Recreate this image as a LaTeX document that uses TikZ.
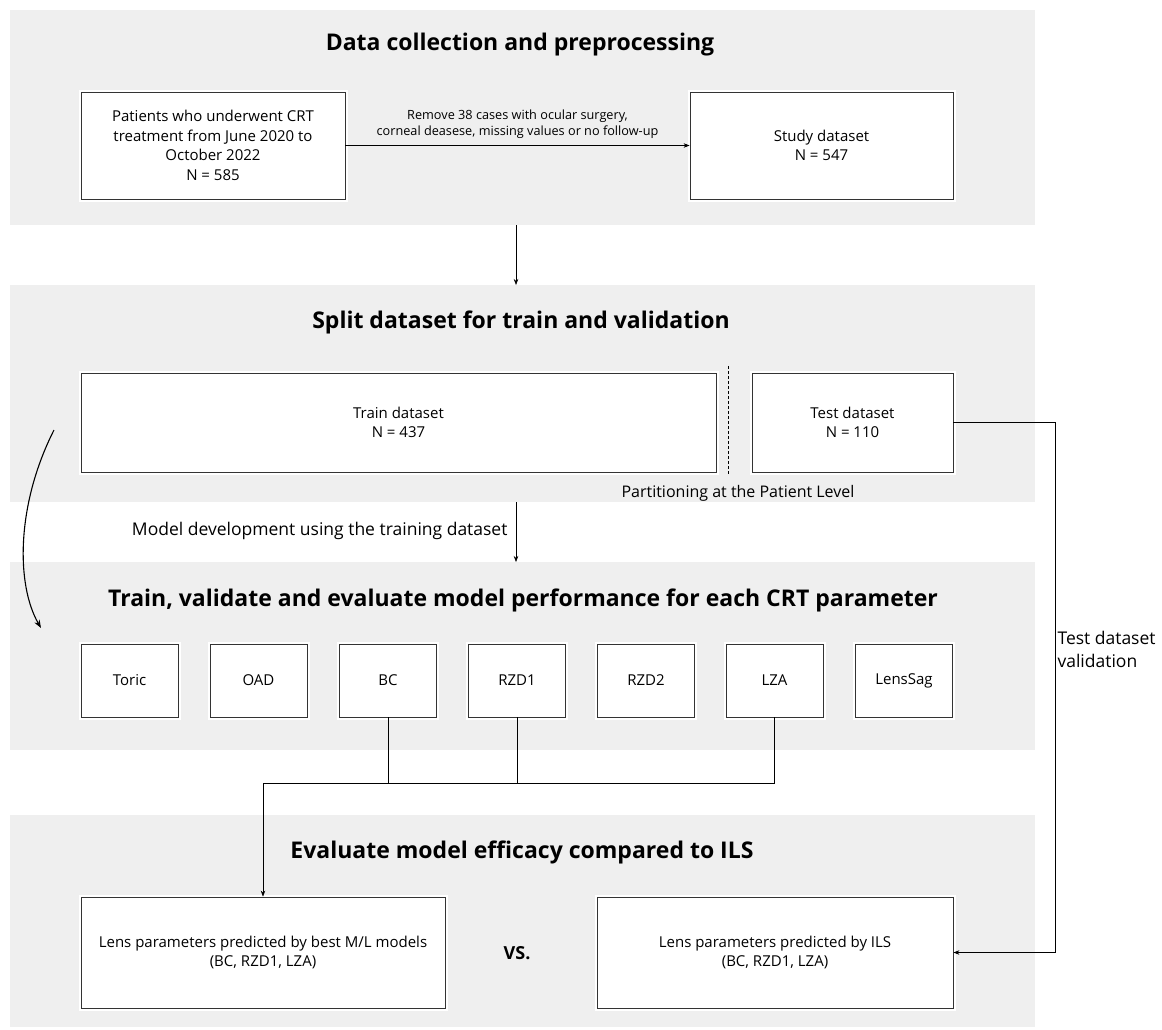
\documentclass[tikz,border=0pt]{standalone}
\usepackage{fontspec}
\setmainfont{Open Sans}
\usetikzlibrary{arrows.meta}
\definecolor{panelgray}{HTML}{EFEFEF}
\tikzset{
  panel/.style={fill=panelgray, draw=none},
  box/.style={draw=black!80, line width=0.8pt, fill=white, preaction={draw=white, line width=5pt},
    align=center, inner sep=2pt, font=\fontsize{15}{19.5}\selectfont},
  ttl/.style={font=\fontsize{23}{27}\selectfont\bfseries},
  arr/.style={-{Stealth[length=6pt,width=4.5pt]}, line width=0.6pt, black},
  conn/.style={line width=0.6pt, black},
  lbl/.style={font=\fontsize{17.5}{23}\selectfont, align=left},
}
\begin{document}
\begin{tikzpicture}[x=1pt,y=-1pt]
\useasboundingbox (0,0) rectangle (1162,1029);
% panels
\fill[panel] (10,10) rectangle (1035,225);
\fill[panel] (10,285) rectangle (1035,502);
\fill[panel] (10,562) rectangle (1035,750);
\fill[panel] (10,815) rectangle (1035,1027);
% titles
\node[ttl] (t1) at (520,45) {Data collection and preprocessing};
\node[ttl] (t2) at (521,322) {Split dataset for train and validation};
\node[ttl] (t3) at (523,600) {Train, validate and evaluate model performance for each CRT parameter};
\node[ttl] (t4) at (522,852) {Evaluate model efficacy compared to ILS};
% panel 1
\node[box, minimum width=264pt, minimum height=107pt] (pat) at (213,145.5)
  {Patients who underwent CRT\\treatment from June 2020 to\\October 2022\\N = 585};
\node[box, minimum width=263pt, minimum height=107pt] (study) at (821.5,145.5)
  {Study dataset\\N = 547};
\draw[arr] (pat.east) -- node[above=3pt, align=center, font=\fontsize{12.7}{16}\selectfont] (rm)
  {Remove 38 cases with ocular surgery,\\corneal deasese, missing values or no follow-up} (study.west);
% between panel 1 and 2
\coordinate (p1b) at (516,225);
\coordinate (p2t) at (516,285);
\draw[arr] (p1b) -- (p2t);
% panel 2
\node[box, minimum width=635pt, minimum height=99pt] (train) at (398.5,422.5) {Train dataset\\N = 437};
\node[box, minimum width=201pt, minimum height=99pt] (test) at (852.5,422.5) {Test dataset\\N = 110};
\coordinate (dt) at (728,366);
\coordinate (db) at (728,475);
\draw[dashed, line width=0.6pt, dash pattern=on 3pt off 2pt] (dt) -- (db);
\node[font=\fontsize{16}{18}\selectfont] (part) at (738,493) {Partitioning at the Patient Level};
% between panel 2 and 3
\coordinate (p2b) at (516,502);
\coordinate (p3t) at (516,562);
\draw[arr] (p2b) -- (p3t);
\node[lbl, anchor=east] (md) at (511,531) {Model development using the training dataset};
% curved arrow
\coordinate (cs) at (54,430);
\coordinate (ce) at (41,628);
\draw[-{Stealth[length=8pt,width=6pt]}, line width=1.1pt] (cs) .. controls (16,505) and (16,585) .. (ce);
% panel 3 boxes
\foreach \n/\t/\x in {toric/Toric/129.5, oad/OAD/258.5, bc/BC/388, rzd1/RZD1/517, rzd2/RZD2/646, lza/LZA/774.5, lens/LensSag/904}{
  \node[box, minimum width=97pt, minimum height=73pt] (\n) at (\x,680.5) {\t};
}
% panel 4
\node[box, minimum width=364pt, minimum height=111pt] (ml) at (263,952.5)
  {Lens parameters predicted by best M/L models\\(BC, RZD1, LZA)};
\node[box, minimum width=356pt, minimum height=111pt] (ils) at (775,952.5)
  {Lens parameters predicted by ILS\\(BC, RZD1, LZA)};
\node[font=\fontsize{18}{22}\selectfont\bfseries] (vs) at (517,953) {VS.};
% connectors from parameters
\coordinate (j) at (263,783);
\draw[conn] (bc.south) |- (j);
\draw[conn] (lza.south) |- (j);
\draw[conn] (rzd1.south) -- (rzd1.south |- j);
\draw[arr] (j) -- (ml.north);
% test dataset connector
\coordinate (tc) at (1055,422.5);
\draw[arr] (test.east) -- (tc) |- (ils.east);
\node[lbl, anchor=west] (tv) at (1054,649) {Test dataset\\validation};
\end{tikzpicture}
\end{document}
